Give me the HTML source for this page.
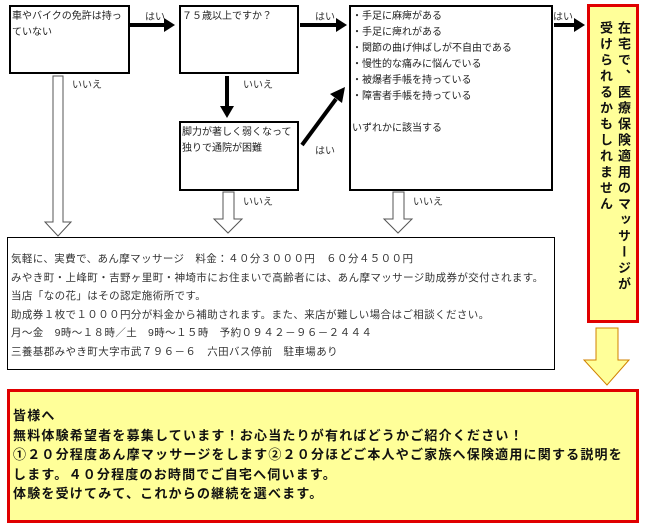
<!DOCTYPE html>
<html><head><meta charset="utf-8"><style>
body{margin:0;width:651px;height:531px;background:#fff;position:relative;overflow:hidden;font-family:"Liberation Sans","Noto Sans CJK JP",sans-serif;color:#222}
.b{position:absolute;border:2px solid #000;box-sizing:border-box;background:#fff;font-size:10px;line-height:16px;padding:2px 1px}
.t{position:absolute;font-size:10px;color:#333;white-space:nowrap}
.info{position:absolute;left:7px;top:237px;width:548px;height:133px;border:1px solid #000;box-sizing:border-box;font-size:10.5px;letter-spacing:0.4px;line-height:18.5px;padding:12px 3px;white-space:nowrap;color:#333}
.red{position:absolute;border:3px solid #e00000;background:#ffff99;box-sizing:border-box}
</style></head><body>
<div class="b" style="left:9px;top:5px;width:121px;height:69px">車やバイクの免許は持っ<br>ていない</div>
<div class="b" style="left:179px;top:5px;width:120px;height:69px">７５歳以上ですか？</div>
<div class="b" style="left:179px;top:121px;width:120px;height:70px">脚力が著しく弱くなって<br>独りで通院が困難</div>
<div class="b" style="left:349px;top:5px;width:204px;height:186px">・手足に麻痺がある<br>・手足に痺れがある<br>・関節の曲げ伸ばしが不自由である<br>・慢性的な痛みに悩んでいる<br>・被爆者手帳を持っている<br>・障害者手帳を持っている<br><br>いずれかに該当する</div>
<div class="t" style="left:145px;top:8px">はい</div>
<div class="t" style="left:315px;top:8px">はい</div>
<div class="t" style="left:315px;top:142px">はい</div>
<div class="t" style="left:553px;top:8px">はい</div>
<div class="t" style="left:72px;top:76px">いいえ</div>
<div class="t" style="left:243px;top:76px">いいえ</div>
<div class="t" style="left:243px;top:193px">いいえ</div>
<div class="t" style="left:413px;top:193px">いいえ</div>
<svg style="position:absolute;left:0;top:0" width="651" height="531">
<g fill="#000" stroke="#000">
<line x1="130" y1="25" x2="164" y2="25" stroke-width="4"/><polygon points="164,18 175,25 164,32" stroke="none"/>
<line x1="300" y1="25" x2="336" y2="25" stroke-width="4"/><polygon points="336,18 347,25 336,32" stroke="none"/>
<line x1="554" y1="25" x2="574" y2="25" stroke-width="4"/><polygon points="574,18 585,25 574,32" stroke="none"/>
<line x1="227" y1="76" x2="227" y2="106" stroke-width="4"/><polygon points="220,106 227,118 234,106" stroke="none"/>
<line x1="302" y1="145" x2="336" y2="99" stroke-width="4"/><polygon points="330,94 345,87 342,103" stroke="none"/>
</g>
<g fill="#fff" stroke="#555" stroke-width="1">
<polygon points="53,76 63,76 63,222 71,222 58,236 45,222 53,222"/>
<polygon points="223,192 234,192 234,219 242,219 228,233 214,219 223,219"/>
<polygon points="393,192 404,192 404,219 412,219 398,233 384,219 393,219"/>
</g>
<polygon points="596,328 618,328 618,360 629,360 607,385 584,360 596,360" fill="#ffff99" stroke="#d08000" stroke-width="1"/>
</svg>
<div class="info">気軽に、実費で、あん摩マッサージ　料金：４０分３０００円　６０分４５００円<br>みやき町・上峰町・吉野ヶ里町・神埼市にお住まいで高齢者には、あん摩マッサージ助成券が交付されます。<br>当店「なの花」はその認定施術所です。<br>助成券１枚で１０００円分が料金から補助されます。また、来店が難しい場合はご相談ください。<br>月～金　9時～１８時／土　9時～１５時　予約０９４２－９６－２４４４<br>三養基郡みやき町大字市武７９６－６　六田バス停前　駐車場あり</div>
<div class="red" style="left:587px;top:4px;width:52px;height:319px">
<div style="writing-mode:vertical-rl;font-weight:bold;font-size:13px;line-height:18px;letter-spacing:3px;position:absolute;right:4px;top:14px;color:#111">在宅で、医療保険適用のマッサージが<br>受けられるかもしれません</div></div>
<div class="red" style="left:7px;top:389px;width:632px;height:134px;font-weight:bold;font-size:13px;letter-spacing:1.2px;line-height:19.5px;padding:14px 3px;color:#111;white-space:nowrap">皆様へ<br>無料体験希望者を募集しています！お心当たりが有ればどうかご紹介ください！<br>①２０分程度あん摩マッサージをします②２０分ほどご本人やご家族へ保険適用に関する説明を<br>します。４０分程度のお時間でご自宅へ伺います。<br>体験を受けてみて、これからの継続を選べます。</div>
</body></html>
